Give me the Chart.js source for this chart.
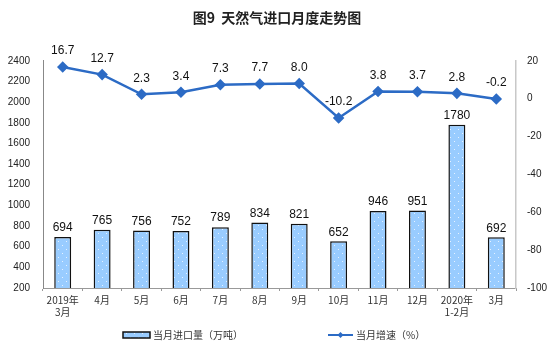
<!DOCTYPE html>
<html>
<head>
<meta charset="utf-8">
<script src="https://cdn.jsdelivr.net/npm/chart.js@4/dist/chart.umd.min.js"></script>
<style>
  html, body { margin: 0; padding: 0; background: #fff; }
  #wrap { width: 554px; height: 352px; }
</style>
</head>
<body>
<div id="wrap"><canvas id="chart"></canvas></div>
<script>
// --- data ---
const months = [['2019年', '3月'], '4月', '5月', '6月', '7月', '8月', '9月', '10月', '11月', '12月', ['2020年', '1-2月'], '3月'];
const importVolume = [694, 765, 756, 752, 789, 834, 821, 652, 946, 951, 1780, 692];
const growthRate = [16.7, 12.7, 2.3, 3.4, 7.3, 7.7, 8.0, -10.2, 3.8, 3.7, 2.8, -0.2];
const volumeAxis = { min: 200, max: 2400, step: 200 };
const rateAxis = { min: -100, max: 20, step: 20 };
const seriesNames = ['当月进口量（万吨）', '当月增速（%）'];
const titleText = '图9  天然气进口月度走势图';

const BAR_BLUE = '#99CCFF';
const LINE_BLUE = '#2C6BC5';
const CJK = '"Noto Sans CJK SC", "Noto Sans", sans-serif';
const NUM = '"Liberation Sans", Arial, sans-serif';

// dotted light-blue fill like the original bars
function dotPattern() {
    const c = document.createElement('canvas');
    c.width = 8; c.height = 8;
    const g = c.getContext('2d');
    g.fillStyle = BAR_BLUE;
    g.fillRect(0, 0, 8, 8);
    g.fillStyle = '#e6f2ff';
    g.fillRect(2, 1, 1, 1);
    g.fillRect(6, 5, 1, 1);
    return g.createPattern(c, 'repeat');
}
const barFill = dotPattern();

// value labels above bars and points
const valueLabels = {
    id: 'valueLabels',
    afterDatasetsDraw(chart) {
        const ctx = chart.ctx;
        ctx.save();
        ctx.font = '12px ' + NUM;
        ctx.fillStyle = '#111';
        ctx.textAlign = 'center';
        ctx.textBaseline = 'bottom';
        chart.getDatasetMeta(0).data.forEach((bar, i) => {
            ctx.fillText(String(importVolume[i]), bar.x, bar.y - 3);
        });
        chart.getDatasetMeta(1).data.forEach((pt, i) => {
            ctx.fillText(growthRate[i].toFixed(1), pt.x, pt.y - 10);
        });
        ctx.restore();
    }
};

// legend drawn by hand so spacing matches the original
const bottomLegend = {
    id: 'bottomLegend',
    afterDraw(chart) {
        const ctx = chart.ctx;
        const y = 335;
        ctx.save();
        // bar swatch
        ctx.fillStyle = barFill;
        ctx.fillRect(123, y - 3, 27, 6);
        ctx.strokeStyle = '#111';
        ctx.lineWidth = 1.5;
        ctx.strokeRect(123, y - 3, 27, 6);
        // line swatch
        ctx.strokeStyle = LINE_BLUE;
        ctx.lineWidth = 2;
        ctx.beginPath();
        ctx.moveTo(328, y);
        ctx.lineTo(353, y);
        ctx.stroke();
        ctx.fillStyle = LINE_BLUE;
        ctx.beginPath();
        ctx.moveTo(340.5, y - 3);
        ctx.lineTo(343.5, y);
        ctx.lineTo(340.5, y + 3);
        ctx.lineTo(337.5, y);
        ctx.closePath();
        ctx.fill();
        // texts
        ctx.fillStyle = '#333';
        ctx.font = '10px ' + CJK;
        ctx.textBaseline = 'middle';
        ctx.textAlign = 'left';
        ctx.fillText(seriesNames[0], 153, y);
        ctx.fillText(seriesNames[1], 356, y);
        ctx.restore();
    }
};

new Chart(document.getElementById('chart'), {
    data: {
        labels: months,
        datasets: [
            {
                type: 'bar',
                label: seriesNames[0],
                data: importVolume,
                yAxisID: 'yVol',
                backgroundColor: barFill,
                borderColor: '#111',
                borderWidth: 1.5,
                categoryPercentage: 1,
                barPercentage: 0.43,
                order: 2
            },
            {
                type: 'line',
                label: seriesNames[1],
                data: growthRate,
                yAxisID: 'yRate',
                borderColor: LINE_BLUE,
                backgroundColor: LINE_BLUE,
                borderWidth: 2.5,
                pointStyle: 'rectRot',
                pointRadius: 4,
                pointBackgroundColor: LINE_BLUE,
                pointBorderColor: LINE_BLUE,
                tension: 0,
                order: 1
            }
        ]
    },
    options: {
        responsive: true,
        maintainAspectRatio: false,
        animation: false,
        layout: { padding: 0 },
        plugins: {
            legend: { display: false },
            tooltip: { enabled: false },
            title: {
                display: true,
                text: titleText,
                color: '#222',
                font: { family: CJK, size: 14, weight: 'bold' },
                padding: { top: 9, bottom: 35 }
            }
        },
        scales: {
            x: {
                offset: true,
                grid: { display: true, drawOnChartArea: false, offset: true, tickLength: 3, color: '#999' },
                border: { display: true, color: '#999', dash: [1, 1] },
                ticks: { color: '#333', font: { family: CJK, size: 10 }, padding: 3, maxRotation: 0, autoSkip: false },
                afterFit: (s) => { s.height = 64; }
            },
            yVol: {
                position: 'left',
                min: volumeAxis.min,
                max: volumeAxis.max,
                grid: { display: false, drawTicks: false },
                border: { display: true, color: '#888', dash: [1, 1] },
                ticks: { stepSize: volumeAxis.step, color: '#222', font: { family: NUM, size: 10 }, padding: 13, callback: (v) => String(v) },
                afterFit: (s) => { s.width = 43; }
            },
            yRate: {
                position: 'right',
                min: rateAxis.min,
                max: rateAxis.max,
                grid: { display: false, drawTicks: false },
                border: { display: true, color: '#c8c8c8', width: 1.5 },
                ticks: { stepSize: rateAxis.step, color: '#222', font: { family: NUM, size: 10 }, padding: 11, callback: (v) => String(v) },
                afterFit: (s) => { s.width = 38; }
            }
        }
    },
    plugins: [valueLabels, bottomLegend]
});
</script>
</body>
</html>
